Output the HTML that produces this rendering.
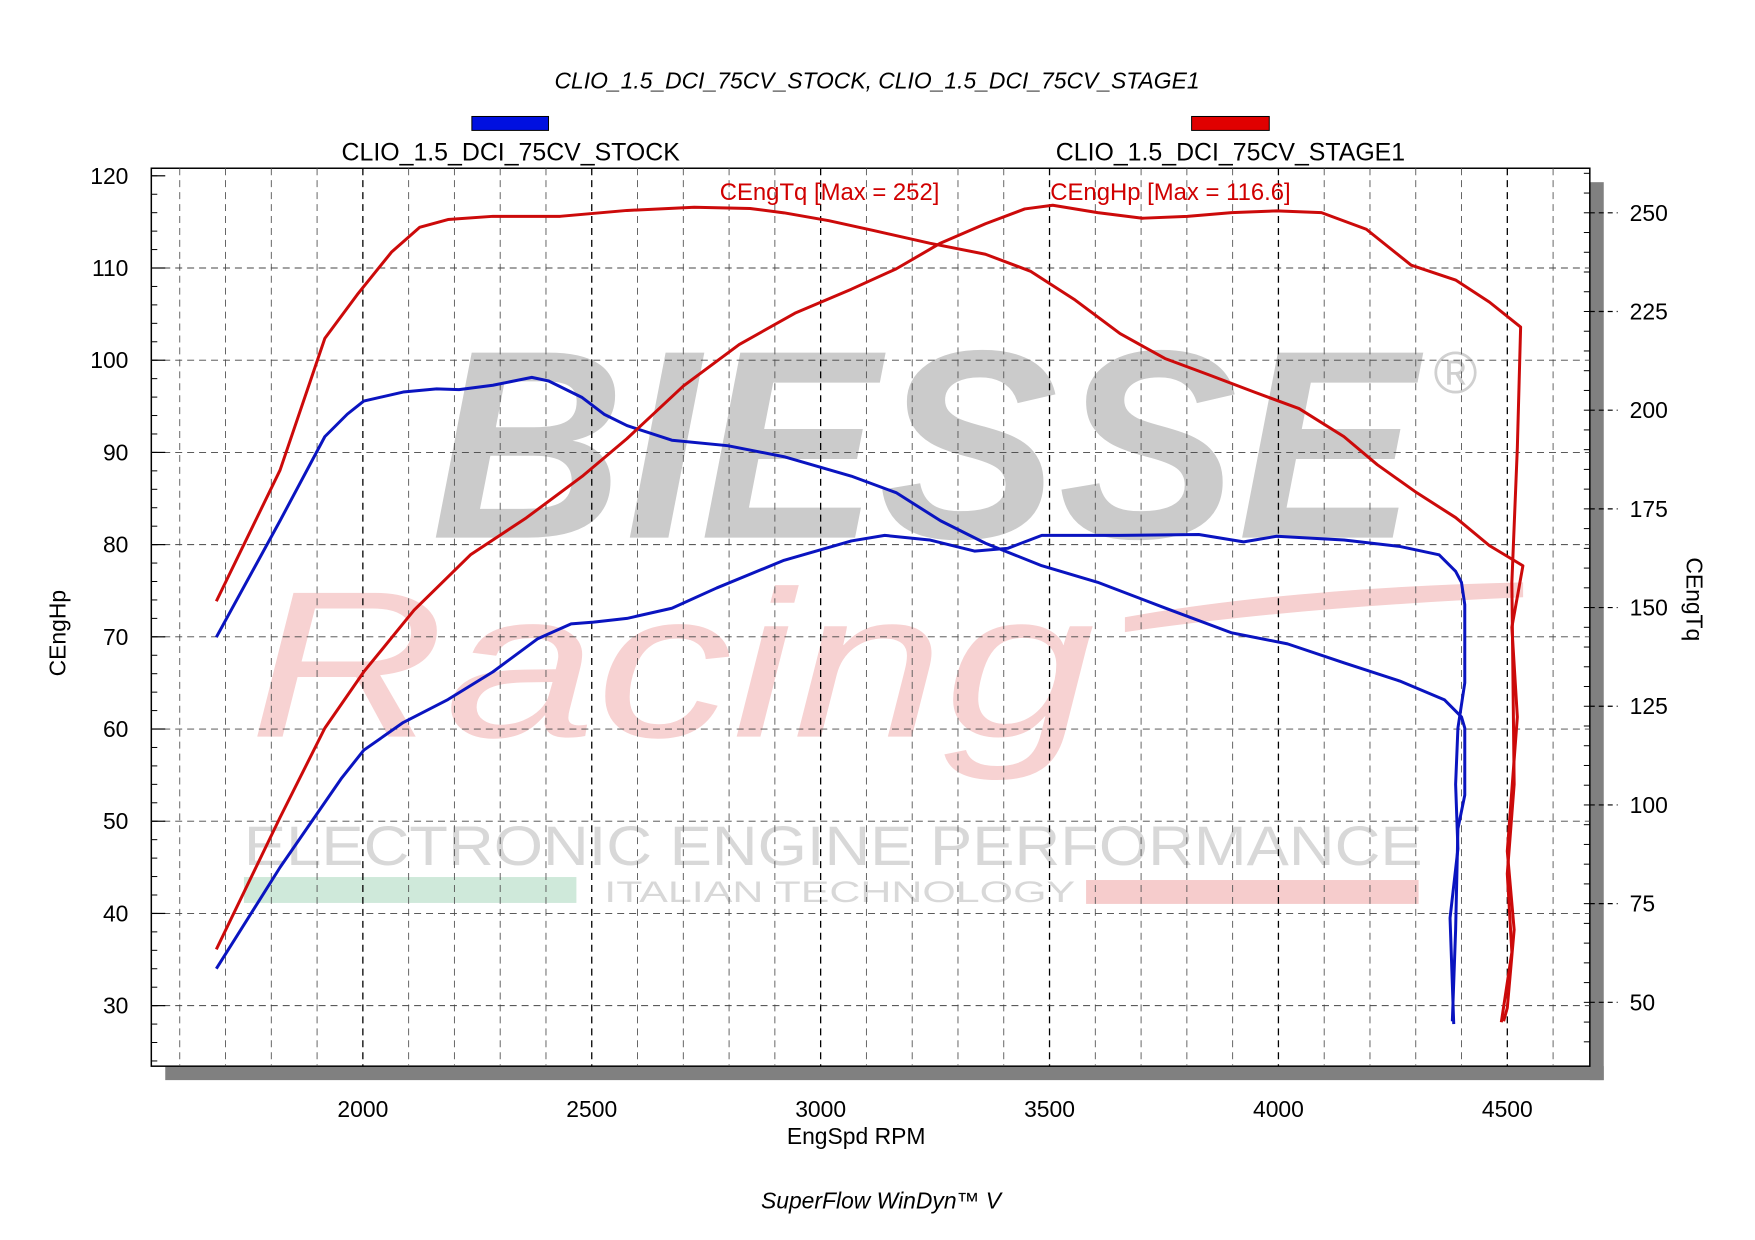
<!DOCTYPE html>
<html><head><meta charset="utf-8"><style>
html,body{margin:0;padding:0;background:#fff}
svg{display:block}
text{font-family:"Liberation Sans",sans-serif}
</style></head><body>
<svg id="chart" width="1755" height="1240" viewBox="0 0 1755 1240" xmlns="http://www.w3.org/2000/svg">
<rect width="1755" height="1240" fill="#fff"/>
<g transform="scale(0.9955)">
<text x="881" y="89" font-size="23" font-style="italic" text-anchor="middle" fill="#000">CLIO_1.5_DCI_75CV_STOCK, CLIO_1.5_DCI_75CV_STAGE1</text>
<rect x="474" y="117" width="77" height="14" fill="#0010e0" stroke="#000" stroke-width="1"/>
<rect x="1197" y="117" width="78" height="14" fill="#e00000" stroke="#000" stroke-width="1"/>
<text x="513" y="161" font-size="25" text-anchor="middle" fill="#000">CLIO_1.5_DCI_75CV_STOCK</text>
<text x="1236" y="161" font-size="25" text-anchor="middle" fill="#000">CLIO_1.5_DCI_75CV_STAGE1</text>
<rect x="1597" y="183" width="14" height="902" fill="#808080"/>
<rect x="166" y="1071" width="1445" height="14" fill="#808080"/>
<rect x="152" y="169" width="1445" height="902" fill="#fff" stroke="#000" stroke-width="1.5"/>
<g id="watermark">
<text x="433" y="540" font-size="270" font-weight="bold" font-style="italic" fill="#cbcbcb" textLength="990" lengthAdjust="spacingAndGlyphs">BIESSE</text>
<text x="1440" y="395" font-size="60" fill="#d0d0d0">®</text>
<text x="250" y="740" font-size="210" font-style="italic" font-family="Liberation Serif,serif" fill="#f7d2d2" textLength="850" lengthAdjust="spacingAndGlyphs">Racing</text>
<path d="M1130 620 Q1300 590 1530 585 L1530 600 Q1300 610 1130 635 Z" fill="#f6d0d0"/>
<text x="245" y="869" font-size="56" fill="#d8d8d8" textLength="1184" lengthAdjust="spacingAndGlyphs">ELECTRONIC ENGINE PERFORMANCE</text>
<rect x="245" y="881" width="334" height="26" fill="#cfe9da"/>
<text x="607" y="906" font-size="30" fill="#d8d8d8" textLength="473" lengthAdjust="spacingAndGlyphs">ITALIAN TECHNOLOGY</text>
<rect x="1091" y="884" width="334" height="24" fill="#f6cccc"/>
</g>
<g id="grid"></g>
<g id="axes"></g>
<g id="series"></g>
<text x="723" y="201" font-size="24" fill="#d00000">CEngTq [Max = 252]</text>
<text x="1055" y="201" font-size="24" fill="#d00000">CEngHp [Max = 116.6]</text>
<text x="0" y="0" font-size="23" text-anchor="middle" transform="translate(66,636) rotate(-90)">CEngHp</text>
<text x="0" y="0" font-size="23" text-anchor="middle" transform="translate(1694,602) rotate(90)">CEngTq</text>
<text x="860" y="1149" font-size="23" text-anchor="middle">EngSpd RPM</text>
<text x="885" y="1214" font-size="23" font-style="italic" text-anchor="middle">SuperFlow WinDyn™ V</text>
</g>
</svg>
<script>
const xTicks = [2000, 2500, 3000, 3500, 4000, 4500];
const hpTicks = [30, 40, 50, 60, 70, 80, 90, 100, 110, 120];
const tqTicks = [50, 75, 100, 125, 150, 175, 200, 225, 250];

const stockHpRpm = [1680,1819,1954,2002,2088,2186,2284,2382,2455,2504,2577,2675,2773,2920,3067,3140,3238,3336,3409,3483,3654,3826,3924,3996,4143,4265,4351,4387,4400,4407,4407,4392,4387,4392,4375,4383];
const stockHp = [34,45,54.7,57.7,60.7,63.2,66.2,69.8,71.4,71.6,72,73.1,75.3,78.3,80.4,81,80.5,79.3,79.6,81,81,81.1,80.3,80.9,80.5,79.8,78.9,77.1,75.9,73.5,65,60.1,54,47,39.5,28];

const stockTqRpm = [1680,1819,1917,1966,2002,2088,2161,2210,2284,2369,2406,2479,2528,2577,2675,2797,2920,3067,3165,3262,3360,3483,3605,3752,3898,4020,4143,4265,4363,4400,4407,4407,4392,4387,4380];
const stockTq = [142.5,172,193.3,199,202.3,204.6,205.4,205.2,206.3,208.3,207.4,203.2,198.9,196.1,192.4,191,188.2,183.3,179.1,172,166.3,160.6,156.4,149.9,143.6,140.8,136,131.4,126.6,122.3,119.5,102.5,94,68.4,45.2];

const stageHpRpm = [1680,1819,1917,2002,2112,2235,2357,2479,2577,2700,2822,2944,3067,3165,3262,3360,3446,3507,3605,3703,3801,3898,3996,4094,4192,4290,4387,4461,4529,4522,4510,4515,4500,4510,4487];
const stageHp = [36.1,50.4,60.1,66.2,72.9,78.9,82.9,87.4,91.5,97.2,101.7,105.1,107.7,109.9,112.7,114.8,116.4,116.8,116,115.4,115.6,116,116.2,116,114.2,110.3,108.7,106.3,103.6,90.5,75.9,54,44.3,35.8,28.2];

const stageTqRpm = [1680,1819,1917,1990,2063,2124,2186,2284,2431,2577,2724,2846,2920,3018,3116,3238,3360,3458,3556,3654,3752,3849,3947,4045,4143,4216,4302,4387,4461,4534,4510,4522,4500,4515,4500,4492];
const stageTq = [151.6,184.8,218.2,229.6,240.1,246.3,248.3,249.1,249.1,250.6,251.4,251.1,250,248,245.5,242.3,239.5,235.2,227.9,219.4,213.1,208.9,204.6,200.4,193.3,186.2,179.1,172.8,165.7,160.6,145,122.3,88.3,68.4,48.6,45.2];

const NS = 'http://www.w3.org/2000/svg';
function X(r){ return 364.5 + (r - 2000) * 0.45985; }
function YH(h){ return 176.6 + (120 - h) * 9.262; }
function YT(t){ return 213.75 + (250 - t) * 3.9656; }
function mk(tag, attrs, parent){
  const e = document.createElementNS(NS, tag);
  for (const k in attrs) e.setAttribute(k, attrs[k]);
  parent.appendChild(e);
  return e;
}
const grid = document.getElementById('grid');
const axes = document.getElementById('axes');
const series = document.getElementById('series');

for (let r = 1600; r <= 4600; r += 100) {
  const major = r % 500 === 0;
  const l = mk('line', {x1: X(r), x2: X(r), y1: 169, y2: 1071, stroke: major ? '#000' : '#555', 'stroke-width': major ? 1.3 : 0.9, 'stroke-dasharray': '7,5'}, grid);
  
  
}
hpTicks.forEach(h => {
  if (h < 120) {
    const l = mk('line', {x1: 152, x2: 1597, y1: YH(h), y2: YH(h), stroke: '#444', 'stroke-width': 0.9, 'stroke-dasharray': '7,5'}, grid);
    
    
  }
  mk('line', {x1: 152, x2: 166, y1: YH(h), y2: YH(h), stroke: '#000', 'stroke-width': 1.2}, axes);
  const t = mk('text', {x: 129, y: YH(h) + 8, 'font-size': 23, 'text-anchor': 'end'}, axes);
  t.textContent = h;
  
  
});
for (let h = 24; h <= 120; h += 2) {
  mk('line', {x1: 152, x2: 158, y1: YH(h), y2: YH(h), stroke: '#000', 'stroke-width': 1}, axes);
}
tqTicks.forEach(v => {
  mk('line', {x1: 1597, x2: 1625, y1: YT(v), y2: YT(v), stroke: '#000', 'stroke-width': 1.2, 'stroke-dasharray': '5,4'}, axes);
  const t = mk('text', {x: 1637, y: YT(v) + 8, 'font-size': 23}, axes);
  t.textContent = v;
  
  
});
for (let v = 40; v <= 260; v += 5) {
  mk('line', {x1: 1591, x2: 1597, y1: YT(v), y2: YT(v), stroke: '#000', 'stroke-width': 1}, axes);
}
xTicks.forEach(r => {
  const t = mk('text', {x: X(r), y: 1122, 'font-size': 23, 'text-anchor': 'middle'}, axes);
  t.textContent = r;
  
  
});

function drawLine(rpms, vals, yf, color, name){
  const d = rpms.map((r, i) => (i ? 'L' : 'M') + X(r).toFixed(1) + ' ' + yf(vals[i]).toFixed(1)).join(' ');
  const p = mk('path', {d: d, fill: 'none', stroke: color, 'stroke-width': 3, 'stroke-linejoin': 'round'}, series);
  
  
}
drawLine(stockHpRpm, stockHp, YH, '#0a14c0', 'stock-hp-line');
drawLine(stockTqRpm, stockTq, YT, '#0a14c0', 'stock-torque-line');
drawLine(stageHpRpm, stageHp, YH, '#cc0a0a', 'stage1-hp-line');
drawLine(stageTqRpm, stageTq, YT, '#cc0a0a', 'stage1-torque-line');
</script>
</body></html>
